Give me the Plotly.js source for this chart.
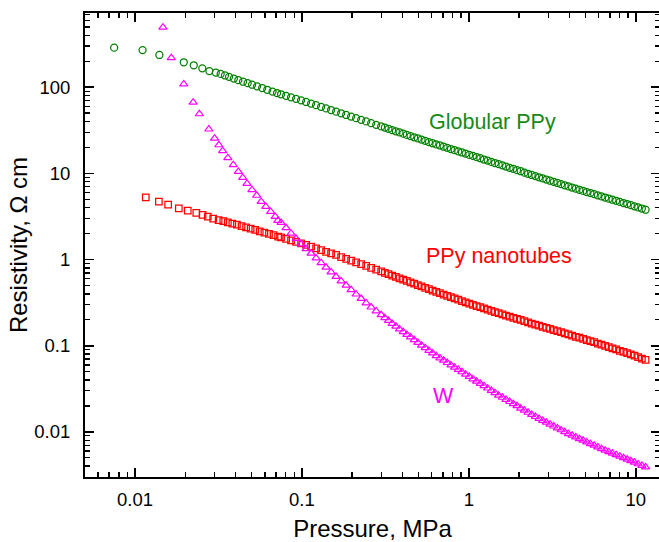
<!DOCTYPE html>
<html>
<head>
<meta charset="utf-8">
<script src="https://cdn.plot.ly/plotly-3.0.1.min.js"></script>
<style>
html, body { margin: 0; padding: 0; overflow: hidden; background: #fff; }
#chart { width: 661px; height: 542px; }
</style>
</head>
<body>
<div id="chart"></div>
<script>
// Low-pressure (sparse) points of each series
const globularLowP = [0.0075, 0.0111, 0.0140, 0.0196, 0.0225, 0.0253, 0.0279, 0.0305, 0.0326, 0.0346, 0.0366, 0.0391, 0.0416, 0.0444, 0.0473, 0.0503, 0.0539, 0.0578, 0.0620, 0.0667, 0.0710];
const globularLowR = [288, 270, 237, 195, 180, 166, 154, 148, 143, 137, 132, 126, 121, 116, 111.5, 107, 102.5, 98, 93.5, 89, 85.7];

const nanotubesLowP = [0.0116, 0.0139, 0.0158, 0.0183, 0.0207, 0.0233, 0.0254, 0.0273, 0.0294, 0.0317, 0.0338, 0.0360, 0.0383, 0.0408, 0.0435, 0.0463, 0.0493, 0.0525, 0.0559, 0.0596, 0.0635, 0.0676, 0.0720];
const nanotubesLowR = [5.26, 4.69, 4.33, 3.92, 3.71, 3.49, 3.31, 3.16, 2.98, 2.87, 2.79, 2.70, 2.62, 2.54, 2.45, 2.37, 2.29, 2.21, 2.13, 2.06, 1.99, 1.92, 1.85];

const wLowP = [0.0147, 0.0165, 0.0196, 0.0223, 0.0243, 0.0277, 0.0300, 0.0318, 0.0335, 0.0360, 0.0388, 0.0416, 0.0442, 0.0469, 0.0502, 0.0536, 0.0570, 0.0608, 0.0650, 0.0692, 0.0718];
const wLowR = [496, 220, 109, 67, 49, 32.6, 25.6, 21.4, 18.3, 15.2, 12.6, 10.5, 8.96, 7.64, 6.46, 5.55, 4.72, 4.13, 3.61, 3.16, 2.84];

// Dense part: pressures (MPa) shared by the three series
const pressure = [
  0.0750, 0.0804, 0.0861, 0.0923, 0.0989, 0.106, 0.1135, 0.1216, 0.1303, 0.1396,
  0.1496, 0.1603, 0.1718, 0.1841, 0.1972, 0.2113, 0.2265, 0.2427, 0.2600, 0.2786,
  0.2985, 0.3141, 0.3304, 0.3475, 0.3656, 0.3846, 0.4046, 0.4256, 0.4477, 0.4710,
  0.4955, 0.5212, 0.5483, 0.5768, 0.6067, 0.6383, 0.6714, 0.7063, 0.7430, 0.7816,
  0.8222, 0.8650, 0.9099, 0.9572, 1.007, 1.059, 1.114, 1.172, 1.233, 1.297,
  1.365, 1.435, 1.510, 1.589, 1.671, 1.758, 1.849, 1.945, 2.046, 2.153,
  2.265, 2.382, 2.506, 2.636, 2.773, 2.917, 3.069, 3.228, 3.396, 3.573,
  3.758, 3.954, 4.159, 4.375, 4.603, 4.842, 5.093, 5.358, 5.636, 5.929,
  6.237, 6.561, 6.902, 7.261, 7.638, 8.035, 8.453, 8.892, 9.354, 9.840,
  10.35, 10.89, 11.46
];

const globularR = [
  82.9, 79.6, 76.4, 73.4, 70.5, 67.5, 64.7, 62.0, 59.3, 56.8,
  54.4, 52.1, 49.9, 47.7, 45.7, 43.8, 41.9, 40.1, 38.3, 36.6,
  35.1, 34.0, 32.9, 31.8, 30.8, 29.9, 28.9, 28.0, 27.1, 26.2,
  25.5, 24.7, 23.9, 23.1, 22.4, 21.7, 21.1, 20.4, 19.8, 19.2,
  18.6, 18.0, 17.5, 17.0, 16.4, 16.0, 15.5, 15.0, 14.5, 14.1,
  13.6, 13.2, 12.8, 12.4, 12.0, 11.6, 11.3, 10.9, 10.6, 10.2,
  9.91, 9.59, 9.31, 9.02, 8.75, 8.49, 8.22, 7.98, 7.74, 7.50,
  7.28, 7.06, 6.85, 6.65, 6.46, 6.27, 6.08, 5.92, 5.74, 5.57,
  5.41, 5.25, 5.09, 4.95, 4.81, 4.67, 4.53, 4.41, 4.28, 4.15,
  4.03, 3.91, 3.79
];

const nanotubesR = [
  1.81, 1.74, 1.67, 1.60, 1.54, 1.48, 1.41, 1.35, 1.29, 1.23,
  1.18, 1.13, 1.07, 1.02, 0.974, 0.928, 0.884, 0.842, 0.802, 0.764,
  0.727, 0.701, 0.676, 0.652, 0.629, 0.606, 0.585, 0.564, 0.544, 0.524,
  0.505, 0.487, 0.470, 0.453, 0.437, 0.421, 0.407, 0.393, 0.379, 0.366,
  0.354, 0.342, 0.330, 0.318, 0.308, 0.298, 0.289, 0.280, 0.271, 0.263,
  0.254, 0.246, 0.239, 0.231, 0.224, 0.218, 0.211, 0.205, 0.199, 0.193,
  0.187, 0.181, 0.176, 0.171, 0.166, 0.161, 0.157, 0.152, 0.148, 0.144,
  0.139, 0.135, 0.131, 0.127, 0.124, 0.120, 0.116, 0.113, 0.110, 0.106,
  0.103, 0.0997, 0.0965, 0.0934, 0.0904, 0.0874, 0.0846, 0.0818, 0.0792, 0.0766,
  0.0738, 0.0710, 0.0683
];

const wR = [
  2.69, 2.33, 2.02, 1.75, 1.51, 1.33, 1.18, 1.04, 0.918, 0.811,
  0.716, 0.633, 0.563, 0.501, 0.445, 0.396, 0.352, 0.313, 0.280, 0.253,
  0.228, 0.211, 0.196, 0.181, 0.168, 0.156, 0.145, 0.135, 0.126, 0.117,
  0.109, 0.101, 0.0945, 0.0880, 0.0820, 0.0765, 0.0719, 0.0676, 0.0635, 0.0597,
  0.0561, 0.0528, 0.0496, 0.0466, 0.0438, 0.0411, 0.0387, 0.0363, 0.0342, 0.0321,
  0.0302, 0.0284, 0.0266, 0.0251, 0.0237, 0.0224, 0.0211, 0.0200, 0.0188, 0.0178,
  0.0168, 0.0159, 0.0150, 0.01426, 0.01355, 0.01288, 0.01225, 0.01164, 0.01107, 0.01052,
  0.01000, 0.00951, 0.00909, 0.00869, 0.00832, 0.00796, 0.00761, 0.00728, 0.00697, 0.00666,
  0.00637, 0.00611, 0.00587, 0.00564, 0.00541, 0.00520, 0.00499, 0.00479, 0.00460, 0.00442,
  0.00424, 0.00407, 0.00390
];

const xTickVals = [0.01, 0.1, 1, 10];
const xTickText = ['0.01', '0.1', '1', '10'];
const yTickVals = [0.01, 0.1, 1, 10, 100];
const yTickText = ['0.01', '0.1', '1', '10', '100'];

function minorLogTicks(lo, hi) {
  const out = [];
  for (let e = lo; e <= hi; e++) {
    for (let m = 2; m <= 9; m++) out.push(m * Math.pow(10, e));
  }
  return out;
}

const FONT = 'Liberation Sans, Arial, sans-serif';
const GREEN = '#008000';
const RED = '#ff0000';
const MAGENTA = '#ff00ff';

const traces = [
  {
    x: globularLowP.concat(pressure), y: globularLowR.concat(globularR),
    mode: 'markers', type: 'scatter', name: 'Globular PPy',
    marker: { symbol: 'circle-open', size: 7, color: GREEN, line: { width: 1.25, color: GREEN } }
  },
  {
    x: nanotubesLowP.concat(pressure), y: nanotubesLowR.concat(nanotubesR),
    mode: 'markers', type: 'scatter', name: 'PPy nanotubes',
    marker: { symbol: 'square-open', size: 6.5, color: RED, line: { width: 1.25, color: RED } }
  },
  {
    x: wLowP.concat(pressure), y: wLowR.concat(wR),
    mode: 'markers', type: 'scatter', name: 'W',
    marker: { symbol: 'triangle-up-open', size: 7.2, color: MAGENTA, line: { width: 1.2, color: MAGENTA } }
  }
];

const axisCommon = {
  type: 'log',
  ticks: 'inside', ticklen: 9, tickwidth: 1.6, tickcolor: '#000',
  showline: true, linewidth: 2, linecolor: '#000', mirror: 'allticks',
  showgrid: false, zeroline: false, automargin: false,
  tickfont: { family: FONT, size: 18.5, color: '#000' },
  tickmode: 'array'
};

const layout = {
  width: 661, height: 542,
  margin: { l: 85, r: 1, t: 13, b: 65 },
  paper_bgcolor: '#fff', plot_bgcolor: '#fff',
  showlegend: false,
  font: { family: FONT, color: '#000' },
  xaxis: Object.assign({}, axisCommon, {
    range: [-2.2996, 1.1456],
    tickvals: xTickVals, ticktext: xTickText,
    ticklabelstandoff: 5,
    minor: { tickmode: 'array', tickvals: minorLogTicks(-3, 1), ticks: 'inside', ticklen: 5, tickwidth: 1.4, tickcolor: '#000', showgrid: false },
    title: { text: 'Pressure, MPa', font: { family: FONT, size: 24, color: '#000' }, standoff: 18 }
  }),
  yaxis: Object.assign({}, axisCommon, {
    range: [-2.524, 2.862],
    tickvals: yTickVals, ticktext: yTickText,
    ticklabelstandoff: 9,
    minor: { tickmode: 'array', tickvals: minorLogTicks(-3, 2), ticks: 'inside', ticklen: 5, tickwidth: 1.4, tickcolor: '#000', showgrid: false },
    title: { text: 'Resistivity, Ω cm', font: { family: FONT, size: 24, color: '#000' }, standoff: 0 }
  }),
  annotations: [
    { text: 'Globular PPy', x: -0.2523, y: 1.598, xref: 'x', yref: 'y', xanchor: 'left', yanchor: 'middle', showarrow: false, font: { family: FONT, size: 21.5, color: '#178a17' } },
    { text: 'PPy nanotubes', x: -0.2684, y: 0.044, xref: 'x', yref: 'y', xanchor: 'left', yanchor: 'middle', showarrow: false, font: { family: FONT, size: 21.5, color: RED } },
    { text: 'W', x: -0.1546, y: -1.579, xref: 'x', yref: 'y', xanchor: 'center', yanchor: 'middle', showarrow: false, font: { family: FONT, size: 21.5, color: MAGENTA } }
  ]
};

Plotly.newPlot('chart', traces, layout, { staticPlot: true, displayModeBar: false });
</script>
</body>
</html>
